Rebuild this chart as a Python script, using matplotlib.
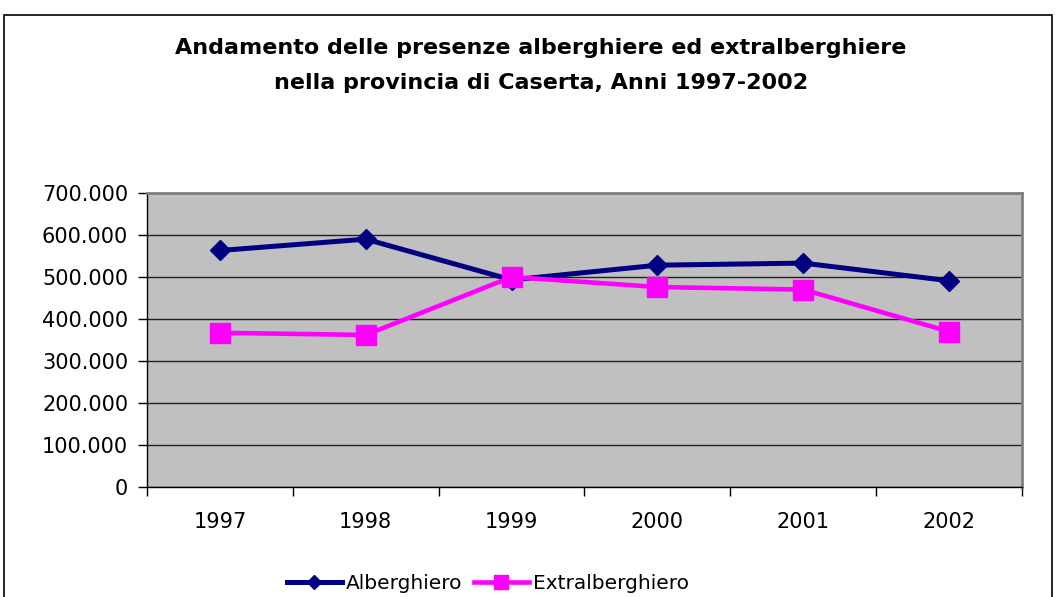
import matplotlib
matplotlib.use("Agg")
import matplotlib.pyplot as plt
from matplotlib.ticker import FuncFormatter, MultipleLocator
from matplotlib.patches import Rectangle

years = ["1997", "1998", "1999", "2000", "2001", "2002"]
alberghiero = [563000, 590000, 493000, 528000, 533000, 491000]
extralberghiero = [367000, 362000, 500000, 476000, 470000, 370000]

title = ("Andamento delle presenze alberghiere ed extralberghiere\n"
         "nella provincia di Caserta, Anni 1997-2002")

plt.rcParams["font.family"] = ["DejaVu Sans"]

fig = plt.figure(figsize=(10.56, 5.97), dpi=100)
ax = fig.add_axes([0.1392, 0.1843, 0.8286, 0.4925])
ax.set_facecolor("#C0C0C0")

x = list(range(len(years)))
ax.plot(x, alberghiero, "-D", color="#000080", lw=3.6, ms=10.5,
        label="Alberghiero", zorder=3)
ax.plot(x, extralberghiero, "-s", color="#FF00FF", lw=3.3, ms=15,
        label="Extralberghiero", zorder=4)

ax.set_xlim(-0.5, len(years) - 0.5)
ax.set_ylim(0, 700000)
ax.yaxis.set_major_locator(MultipleLocator(100000))
ax.yaxis.set_major_formatter(FuncFormatter(lambda v, p: f"{int(v):,}".replace(",", ".")))
ax.grid(axis="y", color="#202020", lw=1.0, zorder=1)
ax.set_axisbelow(True)

ax.set_xticks(x)
ax.set_xticklabels(years)
ax.set_xticks([i - 0.5 for i in range(len(years) + 1)], minor=True)
ax.tick_params(axis="x", which="major", length=0, pad=18, labelsize=15)
ax.tick_params(axis="x", which="minor", length=6.5, width=1, direction="out")
ax.tick_params(axis="y", length=6.5, width=1, pad=7, labelsize=15)

for side in ("top", "right"):
    ax.spines[side].set_color("#808080")
    ax.spines[side].set_linewidth(2)
for side in ("left", "bottom"):
    ax.spines[side].set_color("black")
    ax.spines[side].set_linewidth(1)

fig.text(0.512, 0.890, title, ha="center", va="center", fontsize=16,
         fontweight="bold", linespacing=1.9)

fig.legend(loc="center", bbox_to_anchor=(0.462, 0.023), ncol=2, frameon=False,
           fontsize=14.5, handlelength=2.7, handletextpad=0.2, columnspacing=0.6,
           markerscale=0.65)

fig.patches.append(Rectangle((4 / 1056, -0.05), 1048 / 1056, 1.05 - 15 / 597,
                             transform=fig.transFigure, fill=False,
                             edgecolor="black", lw=1.2))

fig.savefig("out.png", dpi=100)
